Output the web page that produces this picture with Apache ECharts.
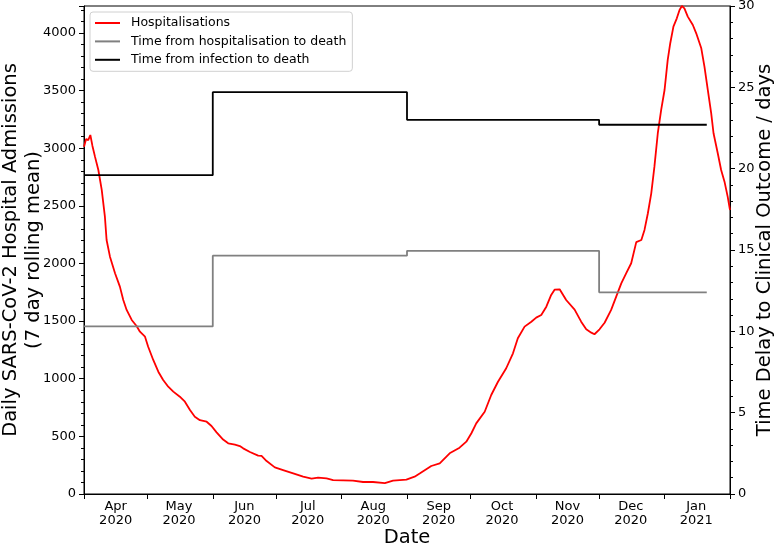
<!DOCTYPE html>
<html><head><meta charset="utf-8">
<script src="https://cdn.jsdelivr.net/npm/echarts@6/dist/echarts.min.js"></script>
<style>html,body{margin:0;padding:0;background:#fff}#c{width:777px;height:545px}</style>
</head><body><div id="c"></div>
<script>
// x positions are days since 2020-04-01
const axisStart = '2020-04-01';
const axisEnd = '2021-02-01';
const monthNames = ['Jan','Feb','Mar','Apr','May','Jun','Jul','Aug','Sep','Oct','Nov','Dec'];

const admissionDay = [0,1,2,3,4,5.2,6.8,8.4,9.9,10.7,12.3,14.7,17,18.6,20.2,22.6,24.9,26.5,28.9,30.4,32.8,35.2,37.5,39.9,42.3,45.4,47.8,50.2,52.5,54.9,58.1,60.4,62.8,65.9,68.3,71.5,73.8,75.4,78.6,82.5,84.1,86.5,90.4,94.3,99.1,103.8,107.8,110.9,114.9,118,122.7,127.4,132.2,136.9,142.5,146.4,152.7,156.6,159,164.5,168.5,173.2,177.9,181.1,183.5,185.8,189.8,192.9,196.1,200,203.2,205.5,208.7,211.9,214.2,216.6,219,221.3,222.9,225.3,228.4,232.4,235.5,237.9,240.3,241.8,244.2,246.6,249.7,252.1,254.5,256.8,259.2,261.6,264,265.5,267.1,268.7,270.2,271.8,273.4,275,276.5,277.7,279.2,280.8,282.1,283.2,284.4,286,288.4,290,292.4,293.9,295.5,297.1,298.2,300.2,301.8,303.4,304.9,306];
const admissionValue = [3013,3080,3070,3115,3020,2927,2811,2638,2406,2204,2059,1915,1799,1683,1597,1510,1458,1408,1365,1278,1163,1061,989,931,888,844,801,729,671,640,627,590,535,472,440,428,416,396,364,333,330,286,231,208,179,150,133,142,136,121,119,116,104,104,95,116,125,150,177,243,266,353,402,454,527,613,714,859,974,1091,1221,1351,1452,1495,1530,1553,1625,1727,1773,1776,1683,1600,1495,1429,1400,1386,1429,1486,1597,1712,1828,1915,2002,2185,2204,2291,2436,2609,2840,3130,3332,3505,3766,3911,4055,4127,4200,4234,4214,4142,4069,3997,3867,3708,3505,3303,3130,2956,2811,2710,2580,2464];

// step series: change days and delay values (days)
const stepDay = [0,61,153,244,295];
const hospToDeath = [10.3,14.65,14.95,12.4,12.4];
const infToDeath = [19.6,24.7,23.0,22.7,22.7];

const leftMax = 4234;
const rightMax = 30;

const DAY = 86400000;
const t0 = Date.parse(axisStart + 'T00:00:00Z');
const t1 = Date.parse(axisEnd + 'T00:00:00Z');
const nDays = Math.round((t1 - t0) / DAY);
const dayCats = [];
for (let i = 0; i <= nDays; i++) dayCats.push(new Date(t0 + i * DAY).toISOString().slice(0, 10));

const zip = (a, b) => a.map((v, i) => [v, b[i]]);
const FONT = 'DejaVu Sans';
const TITLE_SIZE = 19.5;
const TICK_SIZE = 13;
const LW = 1.8;

const chart = echarts.init(document.getElementById('c'), null, {renderer: 'canvas'});
chart.setOption({
  animation: false,
  backgroundColor: '#fff',
  textStyle: {fontFamily: FONT},
  grid: {left: 84, right: 47, top: 6, bottom: 51, containLabel: false, outerBoundsMode: 'none',
         show: true, borderColor: '#000', borderWidth: 1, backgroundColor: 'transparent'},
  legend: {
    left: 90, top: 12, orient: 'vertical',
    data: ['Hospitalisations', 'Time from hospitalisation to death', 'Time from infection to death'],
    icon: 'rect',
    itemWidth: 25, itemHeight: 2, itemGap: 3.4,
    padding: [3.5, 6, 4, 5],
    borderColor: '#d0d0d0', borderWidth: 1, borderRadius: 3,
    backgroundColor: 'rgba(255,255,255,0.8)',
    textStyle: {fontFamily: FONT, fontSize: 12.5, color: '#000', padding: [0, 0, 0, 6], lineHeight: 15}
  },
  xAxis: [
    {
      type: 'category', data: dayCats, boundaryGap: false, position: 'bottom',
      name: 'Date', nameLocation: 'middle', nameGap: 34, nameMoveOverlap: false,
      nameTextStyle: {fontFamily: FONT, fontSize: TITLE_SIZE, color: '#000'},
      axisLine: {lineStyle: {color: '#000', width: 1}},
      axisTick: {show: true, length: 5, lineStyle: {color: '#000'}, interval: (i, v) => v.slice(8) === '01'},
      axisLabel: {
        interval: (i, v) => v.slice(8) === '16',
        formatter: v => monthNames[parseInt(v.slice(5, 7), 10) - 1] + '\n' + v.slice(0, 4),
        fontFamily: FONT, fontSize: TICK_SIZE, color: '#000', lineHeight: 14.5, margin: 5
      },
      splitLine: {show: false}
    },
    {type: 'value', min: 0, max: nDays, show: false}
  ],
  yAxis: [
    {
      type: 'value', min: 0, max: leftMax, interval: 500, position: 'left',
      name: 'Daily SARS-CoV-2 Hospital Admissions\n(7 day rolling mean)',
      nameLocation: 'middle', nameRotate: 90, nameGap: 39, nameMoveOverlap: false,
      nameTextStyle: {fontFamily: FONT, fontSize: TITLE_SIZE, color: '#000', lineHeight: 23},
      axisLine: {show: true, lineStyle: {color: '#000'}},
      axisTick: {show: true, length: 5, lineStyle: {color: '#000'}},
      minorTick: {show: true, splitNumber: 5, length: 3, lineStyle: {color: '#000'}},
      axisLabel: {showMaxLabel: false, formatter: v => String(v), fontFamily: FONT, fontSize: TICK_SIZE, color: '#000', margin: 8},
      splitLine: {show: false}
    },
    {
      type: 'value', min: 0, max: rightMax, interval: 5, position: 'right',
      name: 'Time Delay to Clinical Outcome / days',
      nameLocation: 'middle', nameRotate: 90, nameGap: 25, nameMoveOverlap: false,
      nameTextStyle: {fontFamily: FONT, fontSize: TITLE_SIZE, color: '#000'},
      axisLine: {show: true, lineStyle: {color: '#000'}},
      axisTick: {show: true, length: 5, lineStyle: {color: '#000'}},
      minorTick: {show: true, splitNumber: 5, length: 3, lineStyle: {color: '#000'}},
      axisLabel: {formatter: v => String(v), fontFamily: FONT, fontSize: TICK_SIZE, color: '#000', margin: 8},
      splitLine: {show: false}
    }
  ],
  series: [
    {
      name: 'Hospitalisations', type: 'line', xAxisIndex: 1, yAxisIndex: 0,
      data: zip(admissionDay, admissionValue), symbol: 'none',
      lineStyle: {color: '#ff0000', width: LW}, itemStyle: {color: '#ff0000'}
    },
    {
      name: 'Time from hospitalisation to death', type: 'line', xAxisIndex: 1, yAxisIndex: 1,
      data: zip(stepDay, hospToDeath), step: 'end', symbol: 'none',
      lineStyle: {color: '#808080', width: LW}, itemStyle: {color: '#808080'}
    },
    {
      name: 'Time from infection to death', type: 'line', xAxisIndex: 1, yAxisIndex: 1,
      data: zip(stepDay, infToDeath), step: 'end', symbol: 'none',
      lineStyle: {color: '#000000', width: LW}, itemStyle: {color: '#000000'}
    }
  ]
});
</script>
</body></html>
